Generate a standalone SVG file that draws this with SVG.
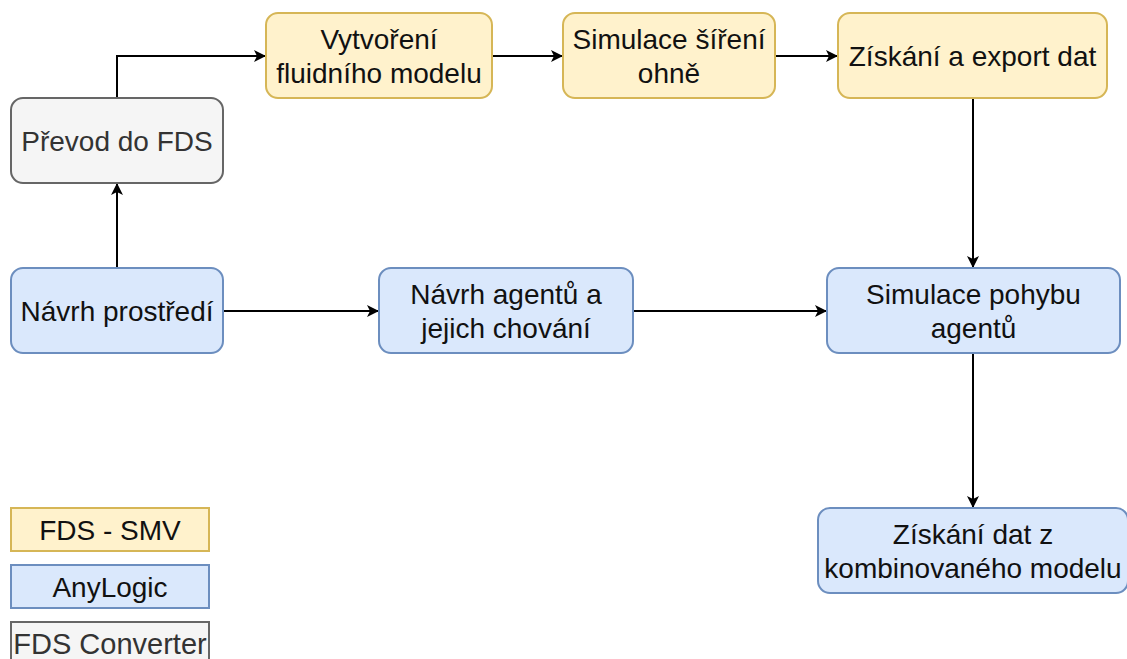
<svg xmlns="http://www.w3.org/2000/svg" width="1127" height="659" viewBox="0 0 1127 659">
<defs>
<style>
.y{fill:#fff2cc;stroke:#d6b656;stroke-width:2}
.b{fill:#dae8fc;stroke:#6c8ebf;stroke-width:2}
.g{fill:#f5f5f5;stroke:#666666;stroke-width:2}
text{font-family:"Liberation Sans",Arial,sans-serif;font-size:28px;text-anchor:middle;fill:#111}
.gt{fill:#333333}
.c{fill:none;stroke:#000;stroke-width:2;marker-end:url(#ah)}
</style>
<marker id="ah" markerUnits="userSpaceOnUse" markerWidth="13" markerHeight="13" refX="12" refY="6" orient="auto">
<path d="M0,0 L12,6 L0,12 L3,6 Z" fill="#000"/>
</marker>
</defs>
<rect width="1127" height="659" fill="#fff"/>
<g id="connectors">
<path class="c" d="M117,98 V56 H266"/>
<path class="c" d="M492,56 H563"/>
<path class="c" d="M775,56 H838"/>
<path class="c" d="M973,98 V268"/>
<path class="c" d="M117,268 V183"/>
<path class="c" d="M223,311 H379"/>
<path class="c" d="M633,311 H827"/>
<path class="c" d="M973,353 V508"/>
</g>
<g id="prevod">
<rect class="g" x="11" y="98" width="212" height="85" rx="12"/>
<text class="gt" x="117" y="151">Převod do FDS</text>
</g>
<g id="vytvoreni">
<rect class="y" x="266" y="13" width="226" height="85" rx="12"/>
<text x="379" y="49">Vytvoření</text>
<text x="379" y="83">fluidního modelu</text>
</g>
<g id="simulace-sireni">
<rect class="y" x="563" y="13" width="212" height="85" rx="12"/>
<text x="669" y="49">Simulace šíření</text>
<text x="669" y="83">ohně</text>
</g>
<g id="ziskani-export">
<rect class="y" x="838" y="13" width="269" height="85" rx="12"/>
<text x="972.5" y="66">Získání a export dat</text>
</g>
<g id="navrh-prostredi">
<rect class="b" x="11" y="268" width="212" height="85" rx="12"/>
<text x="117" y="321">Návrh prostředí</text>
</g>
<g id="navrh-agentu">
<rect class="b" x="379" y="268" width="254" height="85" rx="12"/>
<text x="506" y="304">Návrh agentů a</text>
<text x="506" y="338">jejich chování</text>
</g>
<g id="simulace-pohybu">
<rect class="b" x="827" y="268" width="293" height="85" rx="12"/>
<text x="973.5" y="304">Simulace pohybu</text>
<text x="973.5" y="338">agentů</text>
</g>
<g id="ziskani-dat">
<rect class="b" x="818" y="508" width="310" height="85" rx="12"/>
<text x="973" y="544">Získání dat z</text>
<text x="973" y="578">kombinovaného modelu</text>
</g>
<g id="legend-fds-smv">
<rect class="y" x="11" y="508" width="198" height="43"/>
<text x="110" y="540">FDS - SMV</text>
</g>
<g id="legend-anylogic">
<rect class="b" x="11" y="565" width="198" height="43"/>
<text x="110" y="597">AnyLogic</text>
</g>
<g id="legend-fds-converter">
<rect class="g" x="11" y="622" width="198" height="43"/>
<text class="gt" x="110" y="654" style="font-size:29px">FDS Converter</text>
</g>
</svg>
